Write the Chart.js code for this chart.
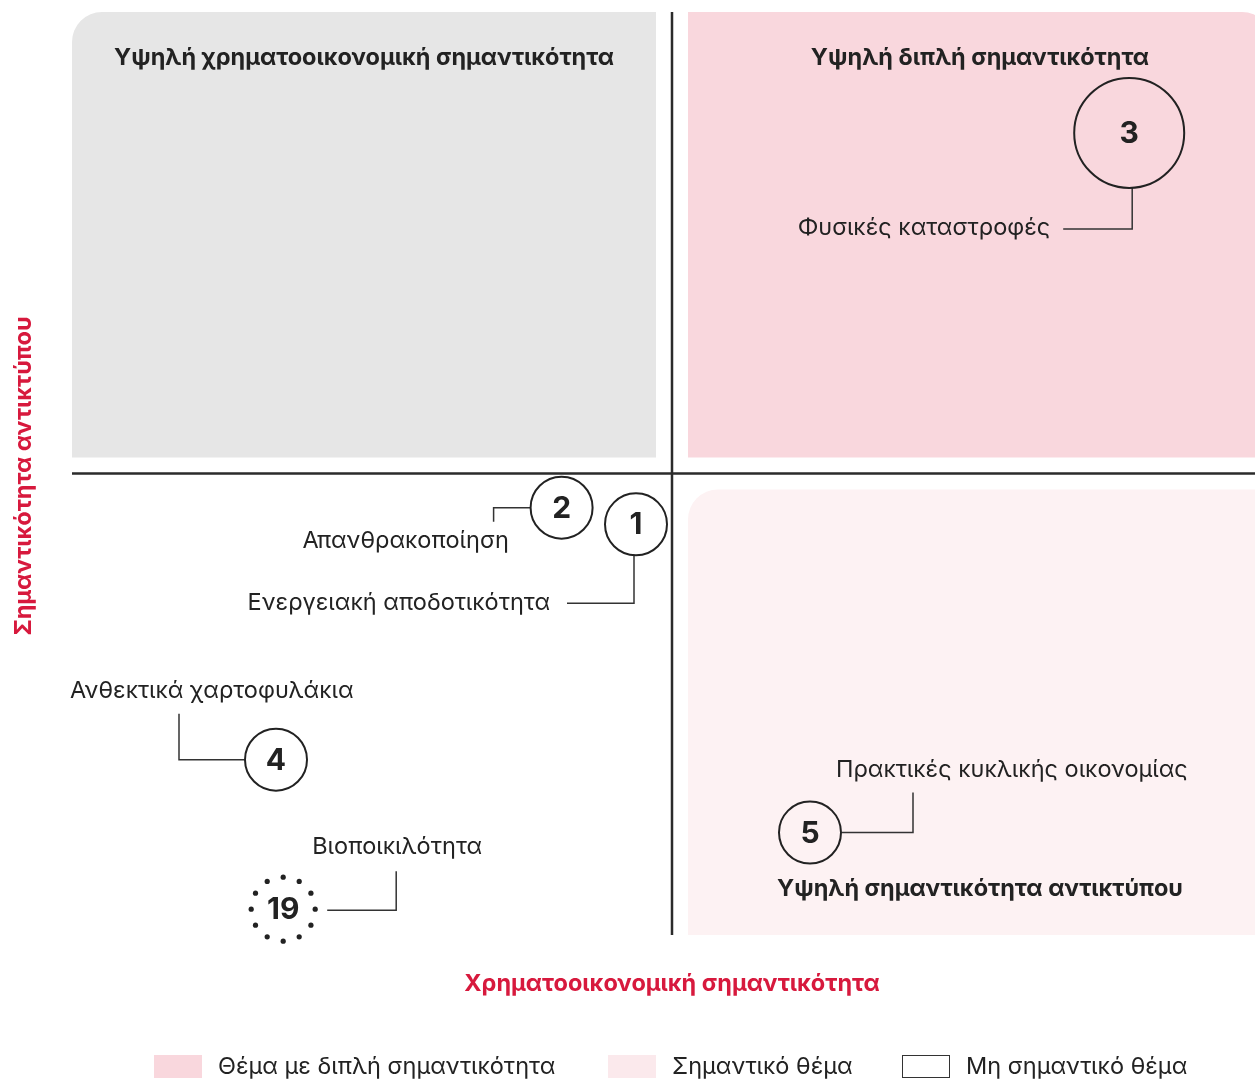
<!DOCTYPE html>
<html>
<head>
<meta charset="utf-8">
<script src="https://cdn.jsdelivr.net/npm/chart.js@4"></script>
<style>
  body { margin: 0; overflow: hidden; background: #fff; }
  #chart { display: block; }
</style>
</head>
<body>
<canvas id="chart" width="1290" height="1080"></canvas>
<script>
// topics of the materiality matrix
const topicIds = ["1", "2", "3", "4", "5", "19"];
const topicNames = [
  "Ενεργειακή αποδοτικότητα",
  "Απανθρακοποίηση",
  "Φυσικές καταστροφές",
  "Ανθεκτικά χαρτοφυλάκια",
  "Πρακτικές κυκλικής οικονομίας",
  "Βιοποικιλότητα"
];
const financialScore = [4.70, 4.08, 8.81, 1.70, 6.15, 1.76];
const impactScore = [4.45, 4.63, 8.69, 1.90, 1.11, 0.28];
const isMaterial = [true, true, true, true, true, false];

const quadrantTitles = [
  "Υψηλή χρηματοοικονομική σημαντικότητα",
  "Υψηλή διπλή σημαντικότητα",
  "Υψηλή σημαντικότητα αντικτύπου"
];
const xTitle = "Χρηματοοικονομική σημαντικότητα";
const yTitle = "Σημαντικότητα αντικτύπου";
const legendLabels = ["Θέμα με διπλή σημαντικότητα", "Σημαντικό θέμα", "Μη σημαντικό θέμα"];

const PINK = "#f9d7dd";
const LIGHT = "#fdf2f3";
const GREY = "#e6e6e6";
const INK = "#222";
const RED = "#d7193d";
const FONT = "Inter, 'Noto Sans', sans-serif";
const SIZE = "23.5px ";

// leader line routes and label anchors, relative to the circle centre
const leaders = [
  { path: [[-2, 31], [-2, 79], [-69, 79]], label: [-86, 79], align: "right" },
  { path: [[-31, 0], [-68, 0], [-68, 14]], label: [-156, 33], align: "center" },
  { path: [[3, 55], [3, 96], [-66, 96]], label: [-79, 95], align: "right" },
  { path: [[-31, 0], [-97, 0], [-97, -46]], label: [-206, -69], align: "left" },
  { path: [[32, 0], [103, 0], [103, -40]], label: [26, -63], align: "left" },
  { path: [[44, 1], [113, 1], [113, -38]], label: [29, -62], align: "left" }
];
const circleRadius = [31, 31, 55, 31, 31, 32];

const points = topicIds.map((id, i) => ({ x: financialScore[i], y: impactScore[i] }));

const matrixPlugin = {
  id: "matrix",
  beforeDatasetsDraw(chart) {
    const { ctx, chartArea: a, scales } = chart;
    const cx = scales.x.getPixelForValue(5);
    const cy = scales.y.getPixelForValue(5);
    const gap = 16;
    ctx.save();
    // quadrant fills
    ctx.fillStyle = GREY;
    ctx.beginPath();
    ctx.roundRect(a.left, a.top, cx - gap - a.left, cy - gap - a.top, [30, 0, 0, 0]);
    ctx.fill();
    ctx.fillStyle = PINK;
    ctx.beginPath();
    ctx.roundRect(cx + gap, a.top, a.right - cx - gap, cy - gap - a.top, [0, 30, 0, 0]);
    ctx.fill();
    ctx.fillStyle = LIGHT;
    ctx.beginPath();
    ctx.roundRect(cx + gap, cy + gap, a.right - cx - gap, a.bottom - cy - gap, [30, 0, 12, 0]);
    ctx.fill();
    // cross lines
    ctx.strokeStyle = "#2b2b2b";
    ctx.lineWidth = 2.5;
    ctx.beginPath();
    ctx.moveTo(cx, a.top);
    ctx.lineTo(cx, a.bottom);
    ctx.moveTo(a.left, cy);
    ctx.lineTo(a.right, cy);
    ctx.stroke();
    // quadrant titles
    ctx.fillStyle = INK;
    ctx.font = "bold " + SIZE + FONT;
    ctx.textAlign = "center";
    ctx.textBaseline = "middle";
    ctx.fillText(quadrantTitles[0], (a.left + cx - gap) / 2, 58);
    ctx.fillText(quadrantTitles[1], (cx + gap + a.right) / 2, 58);
    ctx.fillText(quadrantTitles[2], (cx + gap + a.right) / 2, 889);
    // leaders and labels
    const meta = chart.getDatasetMeta(0);
    ctx.lineWidth = 1.5;
    ctx.strokeStyle = "#333";
    ctx.font = SIZE + FONT;
    meta.data.forEach((pt, i) => {
      const L = leaders[i];
      ctx.beginPath();
      L.path.forEach(([dx, dy], j) => {
        if (j === 0) ctx.moveTo(pt.x + dx, pt.y + dy);
        else ctx.lineTo(pt.x + dx, pt.y + dy);
      });
      ctx.stroke();
      ctx.textAlign = L.align;
      ctx.fillText(topicNames[i], pt.x + L.label[0], pt.y + L.label[1]);
    });
    ctx.restore();
  },
  afterDatasetsDraw(chart) {
    const { ctx } = chart;
    const meta = chart.getDatasetMeta(0);
    ctx.save();
    meta.data.forEach((pt, i) => {
      if (!isMaterial[i]) {
        ctx.fillStyle = INK;
        for (let k = 0; k < 12; k++) {
          const ang = k * Math.PI / 6;
          ctx.beginPath();
          ctx.arc(pt.x + Math.sin(ang) * circleRadius[i], pt.y - Math.cos(ang) * circleRadius[i], 2.6, 0, Math.PI * 2);
          ctx.fill();
        }
      }
      ctx.fillStyle = INK;
      ctx.font = "bold 30px " + FONT;
      ctx.textAlign = "center";
      ctx.textBaseline = "middle";
      ctx.fillText(topicIds[i], pt.x, pt.y + 1);
    });
    ctx.restore();
  },
  afterDraw(chart) {
    const { ctx, scales } = chart;
    const cx = scales.x.getPixelForValue(5);
    ctx.save();
    ctx.fillStyle = RED;
    ctx.font = "bold " + SIZE + FONT;
    ctx.textAlign = "center";
    ctx.textBaseline = "middle";
    ctx.fillText(xTitle, cx, 984);
    ctx.translate(24, 476);
    ctx.rotate(-Math.PI / 2);
    ctx.fillText(yTitle, 0, 0);
    ctx.restore();

    // legend
    ctx.save();
    const boxes = [[154, PINK, false], [608, "#fbe9ec", false], [902, "#fff", true]];
    ctx.font = SIZE + FONT;
    ctx.textBaseline = "middle";
    ctx.textAlign = "left";
    boxes.forEach(([x, col, border], i) => {
      ctx.fillStyle = col;
      ctx.fillRect(x, 1055, 48, 23);
      if (border) {
        ctx.strokeStyle = "#333";
        ctx.lineWidth = 1;
        ctx.strokeRect(x + 0.5, 1055.5, 47, 22);
      }
      ctx.fillStyle = INK;
      ctx.fillText(legendLabels[i], x + 64, 1067);
    });
    ctx.restore();
  }
};

new Chart(document.getElementById("chart"), {
  type: "scatter",
  data: {
    datasets: [{
      label: "Θέματα",
      data: points,
      pointRadius: circleRadius,
      pointBorderWidth: isMaterial.map(m => (m ? 2 : 0)),
      pointBorderColor: "#222",
      pointBackgroundColor: "rgba(0,0,0,0)",
      clip: false
    }]
  },
  options: {
    responsive: false,
    animation: false,
    events: [],
    layout: { autoPadding: false, padding: { left: 72, right: 18, top: 12, bottom: 145 } },
    scales: {
      x: { display: false, min: 0, max: 10 },
      y: { display: false, min: 0, max: 10 }
    },
    plugins: { legend: { display: false }, tooltip: { enabled: false } }
  },
  plugins: [matrixPlugin]
});
</script>
</body>
</html>
